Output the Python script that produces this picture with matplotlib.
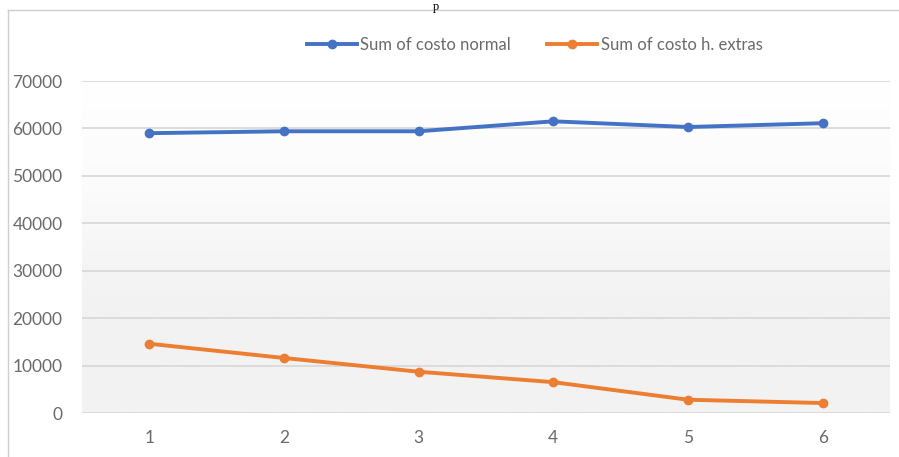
import numpy as np
import matplotlib
matplotlib.use("Agg")
import matplotlib.pyplot as plt
from matplotlib.lines import Line2D
from matplotlib.colors import LinearSegmentedColormap

# values
categories = ["1", "2", "3", "4", "5", "6"]
costo_normal = [59000, 59400, 59400, 61500, 60300, 61100]
costo_extras = [14600, 11600, 8700, 6500, 2800, 2100]
yticks = [0, 10000, 20000, 30000, 40000, 50000, 60000, 70000]

plt.rcParams['font.family'] = ['Lato', 'DejaVu Sans']

fig = plt.figure(figsize=(8.99, 4.57), dpi=100)
ax = fig.add_axes([82 / 899, 44 / 457, 808 / 899, 332 / 457])

x = np.arange(len(categories))

# plot area: white at top fading to light grey
cmap = LinearSegmentedColormap.from_list("bg", ["#ffffff", "#fbfbfb", "#f2f2f2", "#f2f2f2"])
grad = np.linspace(0, 1, 256).reshape(-1, 1)
ax.imshow(grad, cmap=cmap, aspect="auto", origin="upper",
          extent=[-0.5, 5.5, 0, 70000], zorder=0)

ax.plot(x, costo_normal, color="#4472C4", lw=2.8, marker="o", ms=6, label="Sum of costo normal", zorder=3)
ax.plot(x, costo_extras, color="#ED7D31", lw=2.8, marker="o", ms=6, label="Sum of costo h. extras", zorder=3)

ax.set_xlim(-0.5, 5.5)
ax.set_ylim(0, 70000)
ax.set_yticks(yticks)
ax.set_yticklabels([str(v) for v in yticks])
ax.set_xticks(x)
ax.set_xticklabels(categories)
ax.grid(axis="y", color="#d9d9d9", lw=1.3, zorder=1)
ax.set_axisbelow(True)
for s in ax.spines.values():
    s.set_visible(False)
ax.tick_params(length=0, labelsize=12.5, labelcolor="#6a6a6a")
ax.tick_params(axis="y", pad=14)
ax.tick_params(axis="x", pad=12)

leg = ax.legend(loc="lower center", bbox_to_anchor=(0.56, 1.04), ncol=2, frameon=False,
                fontsize=12, handlelength=3, columnspacing=2.2, handletextpad=0.2)
for t in leg.get_texts():
    t.set_color("#6a6a6a")

# chart frame edges and the title fragment above it
fig.add_artist(Line2D([8 / 899, 8 / 899], [0, 1 - 10 / 457], color="#cfcfcf", lw=1))
fig.add_artist(Line2D([8 / 899, 1], [1 - 10 / 457, 1 - 10 / 457], color="#cfcfcf", lw=1))
fig.text(436 / 899, 1 - 1 / 457, "p", family="Liberation Serif", fontsize=9, ha="center", va="top")

fig.savefig("out.png", dpi=100)
